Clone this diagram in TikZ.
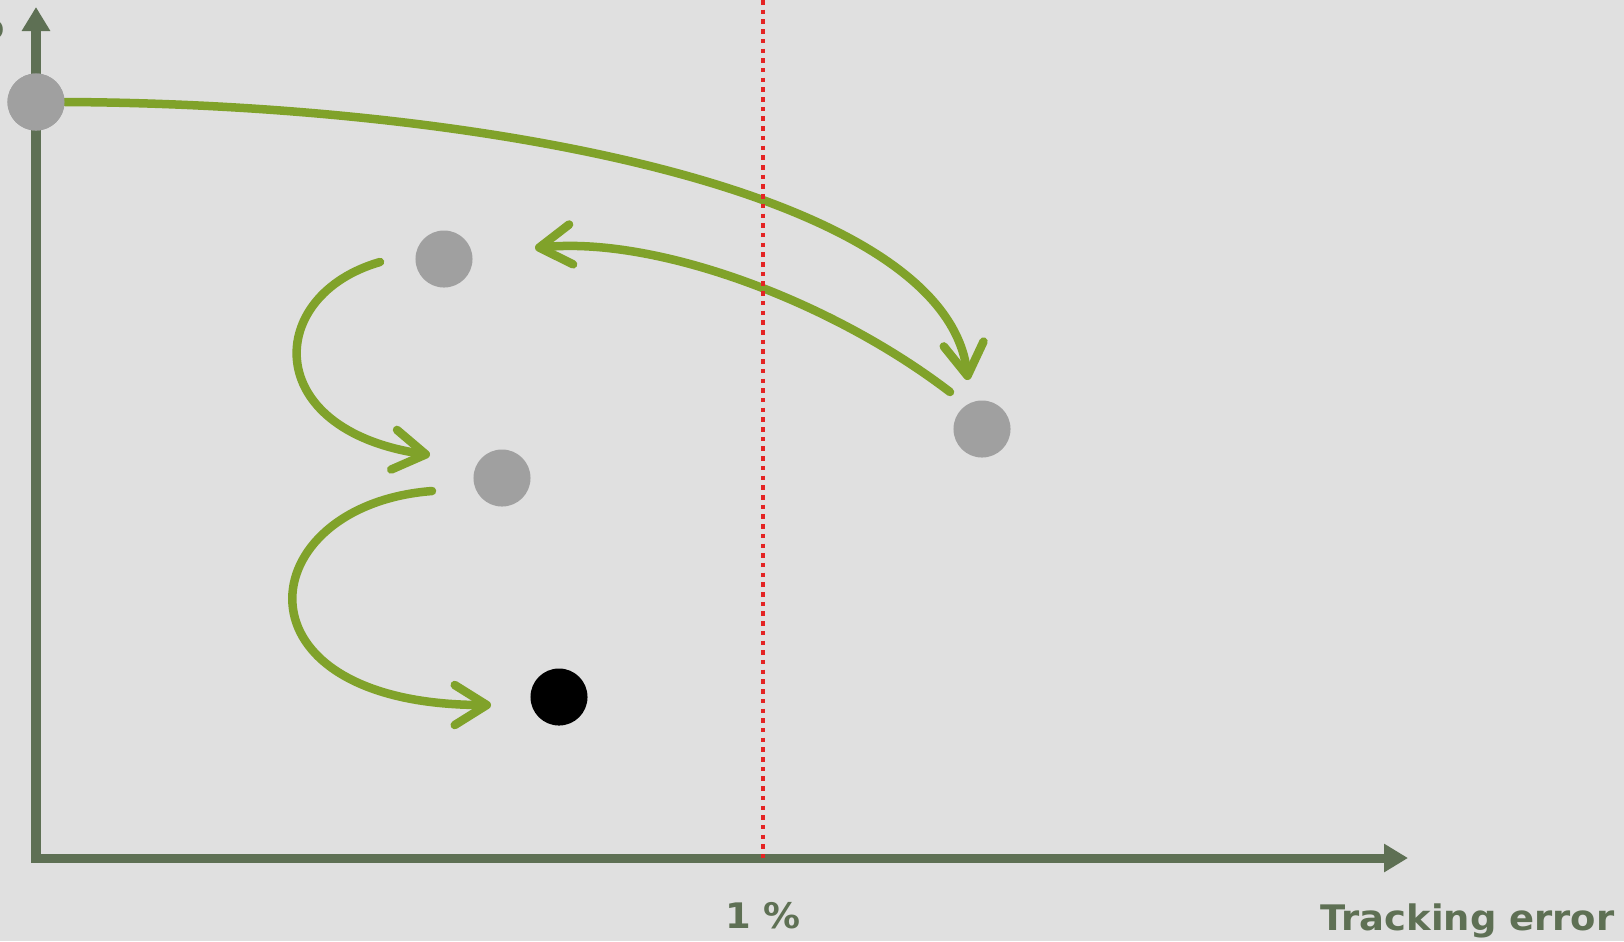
\documentclass[tikz,border=0pt]{standalone}
\usepackage{fontspec}
\setmainfont{DejaVu Sans}
\usetikzlibrary{arrows.meta}

\definecolor{bgGray}{RGB}{224,224,224}
\definecolor{axisGreen}{RGB}{94,112,84}
\definecolor{moveGreen}{RGB}{128,162,42}
\definecolor{dotGray}{RGB}{160,160,160}
\definecolor{limitRed}{RGB}{228,36,36}

\begin{document}
\begin{tikzpicture}[x=0.01cm, y=-0.01cm,
    axis/.style={line width=0.09cm, axisGreen, {Triangle[length=0.24cm,width=0.27cm]}-{Triangle[length=0.24cm,width=0.27cm]}},
    move/.style={line width=0.085cm, moveGreen, line cap=round, -{Straight Barb[length=0.32cm,width=0.4cm,round]}},
    limit/.style={line width=0.045cm, limitRed, dash pattern=on 0.045cm off 0.052cm},
    fund/.style={circle, fill=dotGray, minimum size=0.57cm, inner sep=0pt},
    label/.style={font=\bfseries\fontsize{10pt}{12pt}\selectfont, text=axisGreen, inner sep=0pt}]
    % canvas: one unit = one pixel of the 1624 x 941 frame
    \fill[bgGray] (0,0) rectangle (1624,941);
    \useasboundingbox (0,0) rectangle (1624,941);
    % axes
    \coordinate (yTop) at (36,7);
    \coordinate (orig) at (36,858);
    \coordinate (xEnd) at (1408,858);
    \draw[axis] (yTop) -- (orig) -- (xEnd);
    % cut-off axis title at the top left
    \node[label, anchor=east] (ytitle) at (6,30) {\scalebox{1.05}[1]{o}};
    % positions
    \node[fund] (p1) at (36,102) {};
    \node[fund] (p2) at (444,259) {};
    \node[fund] (p3) at (502,478) {};
    \node[fund, fill=black] (p4) at (559,697) {};
    \node[fund] (p5) at (982,429) {};
    % free ends of the moves
    \coordinate (m1end) at (968,380);
    \coordinate (m2start) at (950,392);
    \coordinate (m2end) at (535,248);
    \coordinate (m3start) at (380,262);
    \coordinate (m3end) at (430,455);
    \coordinate (m4start) at (432,491);
    \coordinate (m4end) at (491,705);
    % moves
    \draw[move] (p1.east) .. controls (480,104) and (945,190) .. (m1end);
    \draw[move] (m2start) .. controls (830,300) and (655,236) .. (m2end);
    \draw[move] (m3start) .. controls (265,295) and (260,430) .. (m3end);
    \draw[move] (m4start) .. controls (250,505) and (225,705) .. (m4end);
    \node[fund] at (p1) {};
    % 1 % limit
    \node[label, anchor=base] (pct) at (763,928) {\scalebox{1.05}[1]{1 \%}};
    \coordinate (limTop) at (763,0);
    \draw[limit] (limTop) -- (limTop |- orig);
    \node[label, anchor=base east] (xtitle) at (1615,930) {\scalebox{1.05}[1]{Tracking error}};
\end{tikzpicture}
\end{document}
